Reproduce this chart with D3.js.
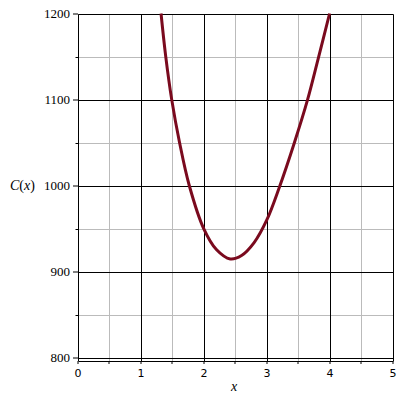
<!DOCTYPE html>
<html>
<head>
<meta charset="utf-8">
<script src="https://cdn.jsdelivr.net/npm/d3@7"></script>
<style>
  body { margin: 0; background: #fff; }
  svg { display: block; }
</style>
</head>
<body>
<svg width="400" height="400"></svg>
<script>
// values
var xs = [1.32, 1.395, 1.49, 1.615, 1.77, 2.00, 2.20, 2.42, 2.60, 2.80, 3.00, 3.20, 3.44, 3.65, 3.82, 4.00];
var cs = [1200, 1150, 1100, 1050, 1000, 950, 926, 915, 919, 934, 960, 998, 1050, 1100, 1148, 1200];
var xTicks = [0, 1, 2, 3, 4, 5];
var yTicks = [800, 900, 1000, 1100, 1200];
var xMinor = [0.5, 1.5, 2.5, 3.5, 4.5];
var yMinor = [850, 950, 1050, 1150];

var svg = d3.select("svg");

var x = d3.scaleLinear().domain([0, 5]).range([78, 392.5]);
var y = d3.scaleLinear().domain([800, 1200]).range([358, 13.5]);
var axisY = 361;
// snap grid lines to whole pixels
var px = function(d){ return Math.round(x(d)) + 0.5; };
var py = function(d){ return Math.round(y(d)) + 0.5; };

// minor grid
svg.selectAll(".vminor").data(xMinor).enter().append("line")
  .attr("x1", px).attr("x2", px)
  .attr("y1", py(1200)).attr("y2", axisY)
  .style("stroke", "#bbbbbb").style("stroke-width", 1);
svg.selectAll(".hminor").data(yMinor).enter().append("line")
  .attr("x1", px(0)).attr("x2", px(5))
  .attr("y1", py).attr("y2", py)
  .style("stroke", "#bbbbbb").style("stroke-width", 1);

// major grid
svg.selectAll(".vmajor").data(xTicks).enter().append("line")
  .attr("x1", px).attr("x2", px)
  .attr("y1", py(1200)).attr("y2", axisY)
  .style("stroke", "#000").style("stroke-width", 1);
svg.selectAll(".hmajor").data(yTicks).enter().append("line")
  .attr("x1", px(0)).attr("x2", px(5))
  .attr("y1", py).attr("y2", py)
  .style("stroke", "#000").style("stroke-width", 1);

// x axis (sits a little under the 800 line)
var xAxis = d3.axisBottom(x).tickValues(xTicks.concat(xMinor)).tickSize(3)
  .tickFormat(function(d){ return d % 1 === 0 ? d : ""; }).tickPadding(5);
var gx = svg.append("g").attr("transform", "translate(0," + axisY + ")").call(xAxis);
gx.select(".domain").attr("d", "M" + px(0) + ",0.5H" + px(5));
gx.selectAll(".tick").attr("transform", function(d){ return "translate(" + (Math.round(x(d)) + 0.5 - 0.5) + ",0)"; });
gx.selectAll("line").style("stroke", "#000");
gx.selectAll("text").style("font-family", "'DejaVu Sans', sans-serif").style("font-size", "11px").style("fill", "#000");

// y axis
var yAxis = d3.axisLeft(y).tickValues(yTicks).tickSize(5).tickPadding(3)
  .tickFormat(d3.format("d"));
var gy = svg.append("g").attr("transform", "translate(" + Math.round(x(0)) + ",0)").call(yAxis);
gy.select(".domain").attr("d", "M0.5," + py(1200) + "V" + axisY);
gy.selectAll(".tick").attr("transform", function(d){ return "translate(0," + Math.round(y(d)) + ")"; });
gy.selectAll("text").style("font-family", "'Liberation Serif', serif").style("font-size", "13px").style("fill", "#000");
gy.selectAll(".mt").data(yMinor).enter().append("line").attr("class", "mt")
  .attr("x1", -2.5).attr("x2", 0)
  .attr("y1", py).attr("y2", py)
  .style("stroke", "#000");

// curve
var line = d3.line()
  .x(function(d, i){ return x(xs[i]); })
  .y(function(d){ return y(d); })
  .curve(d3.curveCatmullRom.alpha(0.5));
svg.append("path").datum(cs)
  .attr("d", line)
  .style("fill", "none")
  .style("stroke", "#7a0a1e")
  .style("stroke-width", 3)
  .style("stroke-linejoin", "round");

// labels
var cl = svg.append("text").attr("x", 10).attr("y", 190)
  .style("font-family", "'Liberation Serif', serif").style("font-size", "14px");
cl.append("tspan").style("font-style", "italic").text("C");
cl.append("tspan").text("(");
cl.append("tspan").style("font-style", "italic").text("x");
cl.append("tspan").text(")");

svg.append("text").attr("x", 234).attr("y", 391).attr("text-anchor", "middle")
  .style("font-family", "'Liberation Serif', serif").style("font-size", "14px")
  .style("font-style", "italic").text("x");
</script>
</body>
</html>
